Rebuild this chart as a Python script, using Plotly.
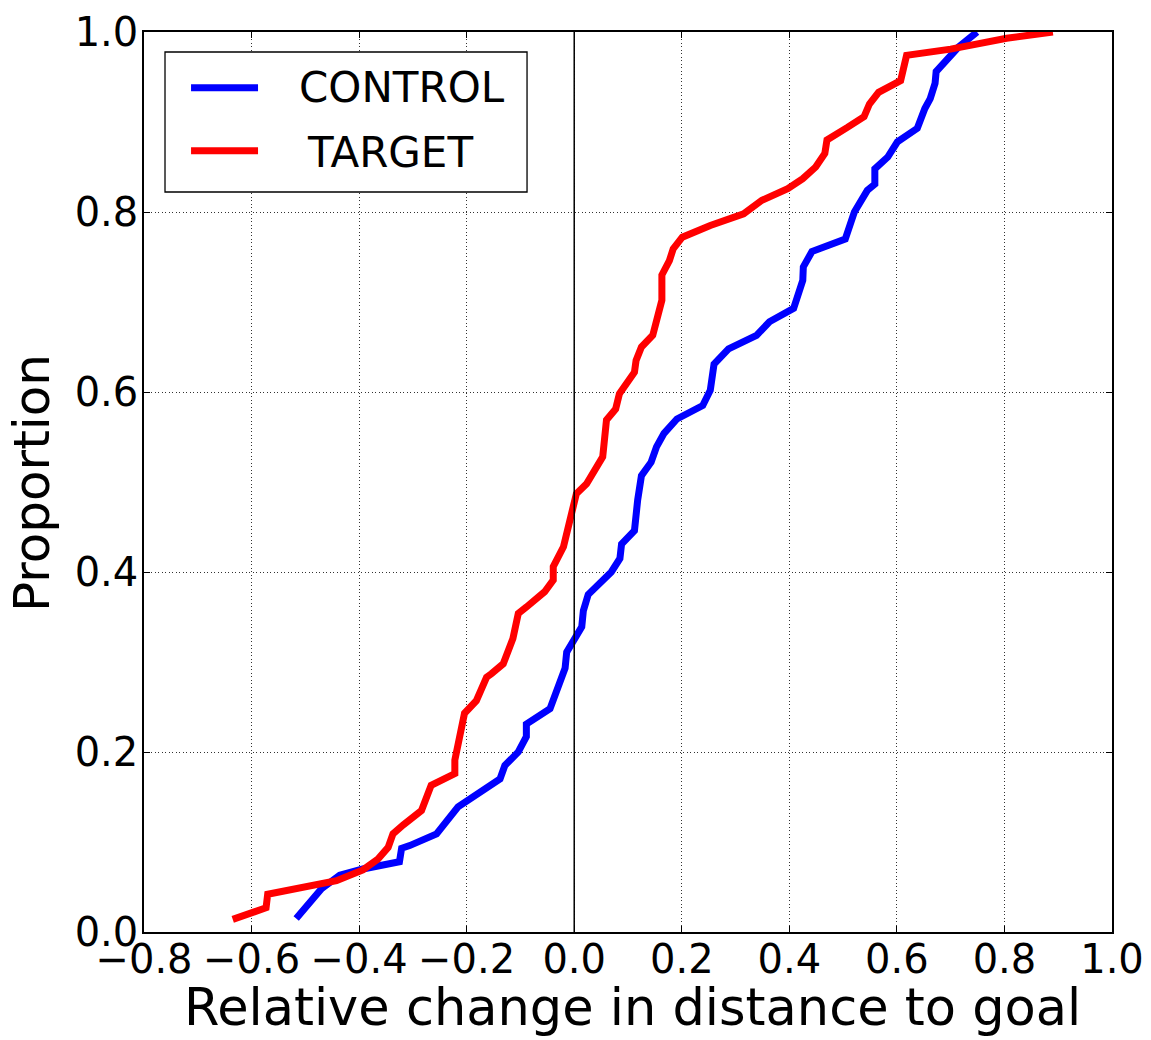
import plotly.graph_objects as go

# Empirical CDFs of the relative change in distance to goal
control_x = [-0.517, -0.470, -0.436, -0.393, -0.325, -0.321, -0.306, -0.256, -0.216, -0.172,
             -0.138, -0.129, -0.104, -0.089, -0.089, -0.045, -0.030, -0.017, -0.014, 0.014,
             0.017, 0.026, 0.069, 0.085, 0.088, 0.112, 0.118, 0.125, 0.143, 0.153,
             0.167, 0.191, 0.239, 0.253, 0.260, 0.287, 0.339, 0.363, 0.408, 0.425,
             0.426, 0.442, 0.504, 0.521, 0.545, 0.559, 0.559, 0.583, 0.601, 0.638,
             0.652, 0.662, 0.671, 0.673, 0.714, 0.749]
control_y = [0.015, 0.048, 0.063, 0.070, 0.078, 0.093, 0.096, 0.109, 0.139, 0.156,
             0.170, 0.185, 0.200, 0.217, 0.231, 0.248, 0.272, 0.293, 0.311, 0.339,
             0.357, 0.375, 0.400, 0.415, 0.431, 0.446, 0.480, 0.507, 0.522, 0.539,
             0.554, 0.570, 0.585, 0.602, 0.631, 0.648, 0.663, 0.678, 0.693, 0.724,
             0.739, 0.756, 0.770, 0.800, 0.824, 0.831, 0.848, 0.861, 0.878, 0.893,
             0.915, 0.926, 0.943, 0.956, 0.983, 1.000]

target_x = [-0.635, -0.573, -0.570, -0.461, -0.442, -0.393, -0.365, -0.346, -0.337, -0.318,
            -0.284, -0.266, -0.247, -0.222, -0.222, -0.213, -0.204, -0.182, -0.163, -0.154,
            -0.132, -0.114, -0.104, -0.089, -0.055, -0.039, -0.039, -0.020, -0.005, 0.004,
            0.023, 0.053, 0.060, 0.077, 0.084, 0.112, 0.115, 0.125, 0.146, 0.163,
            0.163, 0.177, 0.184, 0.201, 0.253, 0.315, 0.349, 0.397, 0.425, 0.449,
            0.466, 0.470, 0.508, 0.539, 0.549, 0.566, 0.607, 0.618, 0.700, 0.804,
            0.890]
target_y = [0.014, 0.027, 0.042, 0.054, 0.057, 0.069, 0.081, 0.094, 0.109, 0.119,
            0.135, 0.163, 0.169, 0.176, 0.191, 0.217, 0.243, 0.257, 0.283, 0.287,
            0.298, 0.326, 0.354, 0.361, 0.378, 0.391, 0.406, 0.428, 0.461, 0.487,
            0.498, 0.528, 0.569, 0.581, 0.598, 0.622, 0.635, 0.650, 0.663, 0.702,
            0.730, 0.746, 0.759, 0.772, 0.785, 0.798, 0.813, 0.826, 0.837, 0.850,
            0.865, 0.880, 0.894, 0.906, 0.920, 0.933, 0.946, 0.974, 0.981, 0.993,
            1.000]

series_names = ["CONTROL", "TARGET"]
series_colors = ["#0000ff", "#ff0000"]

x_ticks = [-0.8, -0.6, -0.4, -0.2, 0.0, 0.2, 0.4, 0.6, 0.8, 1.0]
y_ticks = [0.0, 0.2, 0.4, 0.6, 0.8, 1.0]

FONT = "DejaVu Sans"
LINE_W = 7

fig = go.Figure()
for name, xs, ys, col in zip(series_names, [control_x, target_x], [control_y, target_y], series_colors):
    fig.add_trace(go.Scatter(x=xs, y=ys, mode="lines", name=name,
                             line=dict(color=col, width=LINE_W), showlegend=False))

axis_common = dict(
    showline=True, linecolor="black", linewidth=1.5, mirror="allticks",
    ticks="inside", ticklen=6, tickwidth=1.2, tickcolor="black",
    showgrid=True, gridcolor="#333333", gridwidth=1, griddash="1px,2.5px",
    zeroline=False, tickformat=".1f",
    tickfont=dict(family=FONT, size=40, color="black"),
)

fig.update_xaxes(range=[-0.8, 1.0], tickvals=x_ticks, ticklabelstandoff=-9, **axis_common)
fig.update_yaxes(range=[0.0, 1.0], tickvals=y_ticks, ticklabelstandoff=-4, **axis_common)

# vertical reference line at zero change
fig.add_vline(x=0, line=dict(color="black", width=1.5))

# legend box drawn in paper coordinates
shapes = [
    dict(type="rect", xref="paper", yref="paper", x0=0.0217, x1=0.3957, y0=0.8222, y1=0.9778,
         line=dict(color="black", width=1.3), fillcolor="white", layer="above"),
    dict(type="line", xref="paper", yref="paper", x0=0.0486, x1=0.1178, y0=0.9381, y1=0.9381,
         line=dict(color=series_colors[0], width=LINE_W), layer="above"),
    dict(type="line", xref="paper", yref="paper", x0=0.0486, x1=0.1178, y0=0.8681, y1=0.8681,
         line=dict(color=series_colors[1], width=LINE_W), layer="above"),
]
for s in shapes:
    fig.add_shape(**s)

annotations = [
    dict(text=series_names[0], x=0.1578, y=0.9381, xanchor="left", yanchor="middle",
         font=dict(family=FONT, size=42, color="black")),
    dict(text=series_names[1], x=0.1663, y=0.8664, xanchor="left", yanchor="middle",
         font=dict(family=FONT, size=42, color="black")),
    dict(text="Relative change in distance to goal", x=0.5046, y=-0.0839,
         xanchor="center", yanchor="middle", font=dict(family=FONT, size=51, color="black")),
    dict(text="Proportion", x=-0.1162, y=0.4983, textangle=-90,
         xanchor="center", yanchor="middle", font=dict(family=FONT, size=50, color="black")),
]
for a in annotations:
    fig.add_annotation(xref="paper", yref="paper", showarrow=False, **a)

fig.update_layout(
    width=1151, height=1040,
    margin=dict(l=144, r=39, t=32, b=108, autoexpand=False),
    paper_bgcolor="white", plot_bgcolor="white",
    font=dict(family=FONT, color="black"),
)

fig.write_html("out.html")
